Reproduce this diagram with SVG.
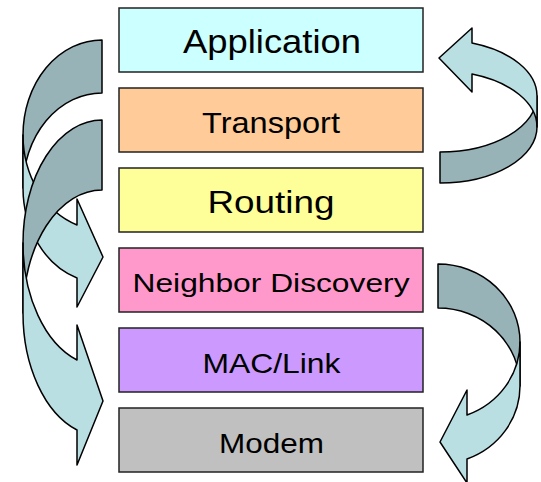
<svg xmlns="http://www.w3.org/2000/svg" width="541" height="482" viewBox="0 0 541 482">
<style>
.box{stroke:#222;stroke-width:1.5}
.lbl{font-family:"Liberation Sans",Arial,sans-serif;fill:#000;text-anchor:middle}
.back{fill:#97B3B7;stroke:#000;stroke-width:1.5;stroke-linejoin:round}
.front{fill:#BADFE3;stroke:#000;stroke-width:1.5;stroke-linejoin:round}
</style>
<rect width="541" height="482" fill="#fff"/>
<g id="application"><rect class="box" x="119" y="8" width="304" height="64" fill="#CCFFFF"/><text class="lbl" x="272" y="53" font-size="34" textLength="178" lengthAdjust="spacingAndGlyphs">Application</text></g>
<g id="transport"><rect class="box" x="119" y="88" width="304" height="64" fill="#FFCC99"/><text class="lbl" x="271" y="133" font-size="29" textLength="138" lengthAdjust="spacingAndGlyphs">Transport</text></g>
<g id="routing"><rect class="box" x="119" y="168" width="304" height="64" fill="#FFFF99"/><text class="lbl" x="271" y="213" font-size="31" textLength="127" lengthAdjust="spacingAndGlyphs">Routing</text></g>
<g id="neighbor-discovery"><rect class="box" x="119" y="248" width="304" height="64" fill="#FF99CC"/><text class="lbl" x="271" y="292" font-size="25" textLength="277" lengthAdjust="spacingAndGlyphs">Neighbor Discovery</text></g>
<g id="mac-link"><rect class="box" x="119" y="328" width="304" height="64" fill="#CC99FF"/><text class="lbl" x="271.5" y="373" font-size="28" textLength="138" lengthAdjust="spacingAndGlyphs">MAC/Link</text></g>
<g id="modem"><rect class="box" x="119" y="408" width="304" height="64" fill="#C0C0C0"/><text class="lbl" x="271.5" y="453" font-size="28" textLength="105" lengthAdjust="spacingAndGlyphs">Modem</text></g>
<g id="connectors">
<path class="back" d="M102,40 A79,95 0 0 0 23,135 L23,188 A79,95 0 0 1 102,93 Z"/>
<path class="front" d="M23,135 A79,95 0 0 0 77,225 L77,199 L103,257 L77,307 L77,278 A79,95 0 0 1 23,188 Z"/>
<path class="back" d="M102,120 A79,123 0 0 0 23,243 L23,313 A79,123 0 0 1 102,190 Z"/>
<path class="front" d="M23,243 A79,123 0 0 0 77,360 L77,325 L103,401 L77,465 L77,430 A79,123 0 0 1 23,313 Z"/>
<path class="back" d="M440,152 A97,56 0 0 0 537,96 L537,127 A97,56 0 0 1 440,183 Z"/>
<path class="front" d="M537,96 A97,56 0 0 0 472,43 L472,28 L439,58 L472,92 L472,74 A97,56 0 0 1 537,127 Z"/>
<path class="back" d="M438,264 A82,78 0 0 1 520,342 L520,386 A82,78 0 0 0 438,308 Z"/>
<path class="front" d="M520,342 A82,78 0 0 1 467,415 L467,390 L440,442 L467,483 L467,459 A82,78 0 0 0 520,386 Z"/>
</g>
</svg>
